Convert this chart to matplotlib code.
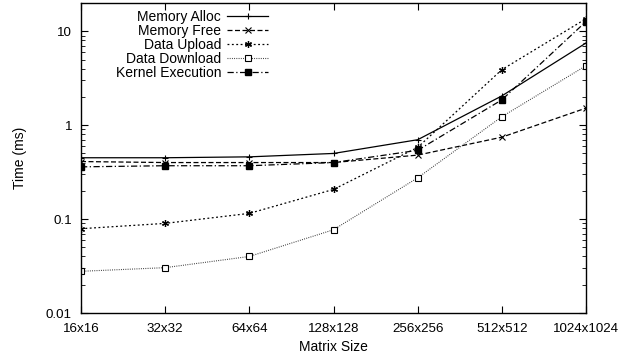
import matplotlib
matplotlib.use("Agg")
import matplotlib.pyplot as plt
from matplotlib.ticker import LogLocator, NullFormatter, FixedLocator
import numpy as np

plt.rcParams['font.family'] = ['Liberation Sans', 'DejaVu Sans']
plt.rcParams['font.size'] = 10

sizes = ["16x16", "32x32", "64x64", "128x128", "256x256", "512x512", "1024x1024"]

mem_alloc = [0.45, 0.45, 0.46, 0.50, 0.70, 2.05, 7.5]
mem_free = [0.41, 0.40, 0.40, 0.40, 0.48, 0.745, 1.52]
data_upload = [0.079, 0.090, 0.115, 0.207, 0.58, 3.9, 13.6]
data_download = [0.0278, 0.0304, 0.040, 0.077, 0.275, 1.23, 4.3]
kernel_exec = [0.36, 0.37, 0.37, 0.40, 0.54, 1.86, 12.7]

fig = plt.figure(figsize=(6.19, 3.62), dpi=100)
ax = fig.add_axes([81 / 619, 1 - 313 / 362, (586 - 81) / 619, (313 - 3) / 362])

x = np.arange(len(sizes))
lw = 0.9
ax.plot(x, mem_alloc, color='black', lw=lw, ls='-', marker='+', ms=5, mew=0.8,
        label='Memory Alloc')
ax.plot(x, mem_free, color='black', lw=lw, ls=(0, (4, 2)), marker='x', ms=4, mew=0.8,
        label='Memory Free')
ax.plot(x, data_upload, color='black', lw=lw, ls=(0, (1.5, 2)), marker=(6, 2, 0), ms=5,
        mew=0.9, label='Data Upload')
ax.plot(x, data_download, color='#333333', lw=0.8, ls=(0, (0.8, 1.2)), marker='s', ms=4,
        mfc='white', mec='black', mew=0.8, label='Data Download')
ax.plot(x, kernel_exec, color='black', lw=lw, ls=(0, (5, 2, 1, 2)), marker='s', ms=4.5,
        mfc='black', mec='black', label='Kernel Execution')

ax.set_yscale('log')
ax.set_ylim(0.01, 20)
ax.set_xlim(0, len(sizes) - 1)
ax.set_xticks(x)
ax.set_xticklabels(sizes)
ax.yaxis.set_major_locator(FixedLocator([0.01, 0.1, 1, 10]))
ax.set_yticklabels(['0.01', '0.1', '1', '10'])
ax.yaxis.set_minor_locator(LogLocator(base=10, subs=np.arange(2, 10)))
ax.yaxis.set_minor_formatter(NullFormatter())

ax.tick_params(which='both', direction='in', top=True, right=True)
ax.tick_params(which='major', length=5, width=0.8, labelsize=9.6)
ax.tick_params(axis='x', which='major', pad=7)
ax.tick_params(axis='y', which='major', pad=6.5)
ax.tick_params(which='minor', length=3, width=0.6)
for s in ax.spines.values():
    s.set_linewidth(1.0)

ax.set_xlabel('Matrix Size', labelpad=4)
ax.set_ylabel('Time (ms)', labelpad=14)

ax.legend(loc='upper left', bbox_to_anchor=(0.055, 1.0), frameon=False, markerfirst=False,
          handlelength=3.0, handletextpad=0.4, labelspacing=0.0, borderaxespad=0.1)

fig.savefig('out.png', dpi=100)
